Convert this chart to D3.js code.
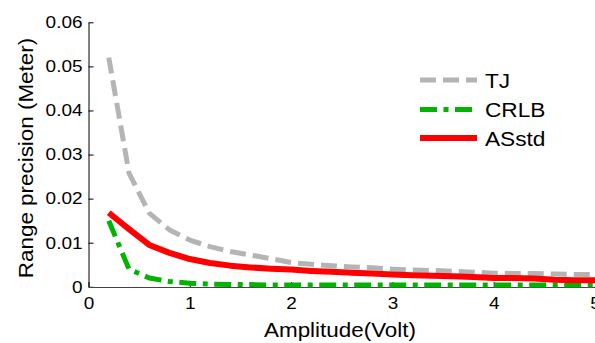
<!DOCTYPE html>
<html>
<head>
<meta charset="utf-8">
<script src="https://cdn.jsdelivr.net/npm/d3@7"></script>
<style>
  body { margin: 0; background: #fff; }
  svg { display: block; font-family: "Liberation Sans", Arial, sans-serif; }
</style>
</head>
<body>
<div id="chart"></div>
<script>
// amplitude values (Volt)
let amp = [0.2, 0.4, 0.6, 0.8, 1.0, 1.2, 1.4, 1.6, 1.8, 2.0, 2.2, 2.4, 2.6,
           2.8, 3.0, 3.2, 3.4, 3.6, 3.8, 4.0, 4.2, 4.4, 4.6, 4.8, 5.0];
// range precision (Meter)
let tj = [0.0520, 0.0258, 0.0167, 0.0129, 0.0106, 0.0091, 0.0080, 0.0072, 0.0064,
          0.0055, 0.0051, 0.0048, 0.0045, 0.0043, 0.0040, 0.0038, 0.0037, 0.0035,
          0.0033, 0.0031, 0.0030, 0.0030, 0.0029, 0.0028, 0.0028];
let crlb = [0.0150, 0.0040, 0.0020, 0.0012, 0.0008, 0.0006, 0.0005, 0.0005, 0.0004,
            0.0004, 0.0004, 0.0004, 0.0004, 0.0004, 0.0004, 0.0004, 0.0004, 0.0004,
            0.0004, 0.0004, 0.0004, 0.0004, 0.0004, 0.0004, 0.0004];
let asstd = [0.0168, 0.0131, 0.0095, 0.0077, 0.0063, 0.0054, 0.0048, 0.0044, 0.0041,
             0.0039, 0.0036, 0.0034, 0.0032, 0.0030, 0.0028, 0.0026, 0.0025, 0.0024,
             0.0022, 0.0020, 0.0020, 0.0019, 0.0016, 0.0015, 0.0015];
let xTicks = [0, 1, 2, 3, 4, 5];
let yTicks = [0, 0.01, 0.02, 0.03, 0.04, 0.05, 0.06];
let seriesNames = ["TJ", "CRLB", "ASstd"];

let W = 595, H = 343;
let sx = 1.15; // text is a bit wider than Liberation Sans

let svg = d3.select("#chart").append("svg")
  .attr("width", W).attr("height", H);

let xScale = d3.scaleLinear().domain([0, 5]).range([88.5, 595]);
let yScale = d3.scaleLinear().domain([0, 0.06]).range([286.8, 22.3]);

let styles = [
  { color: "#b4b4b4", width: 5, dash: "16,7" },
  { color: "#00b400", width: 5, dash: "17,6.5,5,6.5" },
  { color: "#ff0000", width: 6, dash: null }
];
let allSeries = [tj, crlb, asstd];

let line = d3.line()
  .x((d, i) => xScale(amp[i]))
  .y(d => yScale(d));

// axes
let yAxisGroup = svg.append("g")
  .attr("class", "yAxis")
  .attr("transform", "translate(88.5, 0)")
  .call(d3.axisLeft(yScale).tickValues(yTicks)
    .tickFormat(d => d === 0 ? "0" : d3.format(".2f")(d))
    .tickSizeInner(-5).tickSizeOuter(0).tickPadding(6));

let xAxisGroup = svg.append("g")
  .attr("class", "xAxis")
  .attr("transform", "translate(0, 287)")
  .call(d3.axisBottom(xScale).tickValues(xTicks)
    .tickFormat(d3.format("d"))
    .tickSizeInner(-5).tickSizeOuter(0).tickPadding(10));

svg.selectAll(".yAxis path, .xAxis path, .yAxis line, .xAxis line")
  .attr("stroke", "#000");
xAxisGroup.select("path").attr("stroke", "#444");

svg.selectAll(".yAxis text, .xAxis text")
  .attr("font-size", 16.5)
  .attr("font-family", "Liberation Sans, Arial, sans-serif")
  .attr("fill", "#000")
  .attr("x", function() { return +d3.select(this).attr("x") / sx; })
  .attr("transform", `scale(${sx},1)`);

// lines
svg.append("g").selectAll("path")
  .data(allSeries)
  .enter()
  .append("path")
  .attr("d", d => line(d))
  .attr("fill", "none")
  .attr("stroke", (d, i) => styles[i].color)
  .attr("stroke-width", (d, i) => styles[i].width)
  .attr("stroke-dasharray", (d, i) => styles[i].dash)
  .attr("stroke-linejoin", "round");

// legend
let legend = svg.append("g").attr("class", "legend");
let legY = [80, 109.5, 138];
seriesNames.forEach((name, i) => {
  legend.append("line")
    .attr("x1", 420).attr("x2", 477)
    .attr("y1", legY[i]).attr("y2", legY[i])
    .attr("stroke", styles[i].color)
    .attr("stroke-width", styles[i].width)
    .attr("stroke-dasharray", styles[i].dash);
  legend.append("text")
    .attr("transform", `translate(485, ${legY[i] + 7.5}) scale(1.08,1)`)
    .attr("font-size", 21)
    .text(name);
});

// axis titles
svg.append("text")
  .attr("transform", `translate(340, 336.5) scale(${sx},1)`)
  .attr("text-anchor", "middle")
  .attr("font-size", 19.5)
  .text("Amplitude(Volt)");

svg.append("text")
  .attr("transform", `translate(33, 158) rotate(-90) scale(${sx},1)`)
  .attr("text-anchor", "middle")
  .attr("font-size", 19.5)
  .text("Range precision (Meter)");
</script>
</body>
</html>
